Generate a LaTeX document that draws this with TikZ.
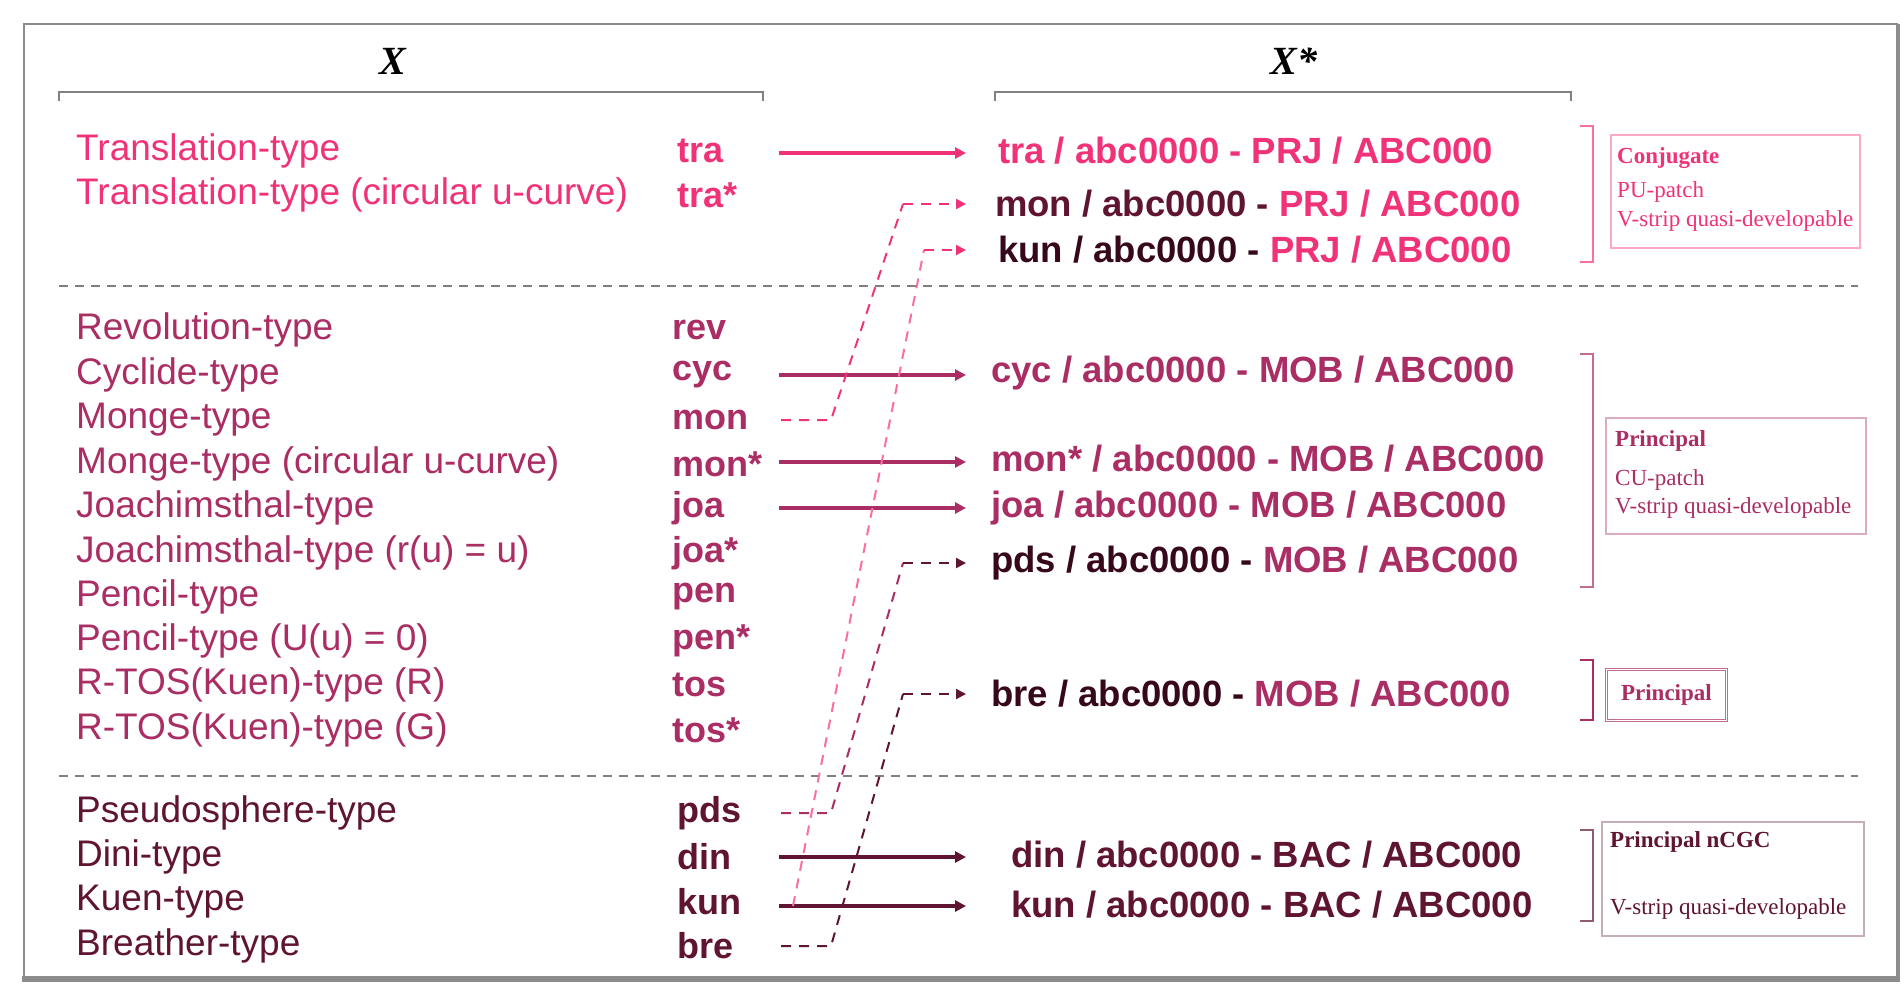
\documentclass[tikz,border=0pt]{standalone}
\usepackage{fontspec}
\setmainfont{Liberation Sans}
\newfontfamily\tms{Liberation Serif}
\usetikzlibrary{arrows.meta}
\definecolor{pinkA}{RGB}{240,50,120}
\definecolor{magB}{RGB}{170,45,100}
\definecolor{darkC}{RGB}{95,20,50}
\definecolor{darkD}{RGB}{55,8,28}
\definecolor{pinkL}{RGB}{250,110,160}
\definecolor{frameG}{RGB}{140,140,140}
\begin{document}
\begin{tikzpicture}[x=1pt,y=-1pt,
  lname/.style={anchor=west,inner sep=0pt,font=\fontsize{37}{37}\selectfont},
  code/.style={anchor=west,inner sep=0pt,font=\bfseries\fontsize{36}{36}\selectfont},
  rent/.style={anchor=west,inner sep=0pt,font=\bfseries\fontsize{36.5}{36.5}\selectfont},
  sarr/.style={line width=3.4pt,-{Triangle[length=11pt,width=11pt]}},
  darr/.style={line width=2pt,dash pattern=on 10pt off 8pt},
  dtip/.style={line width=2pt,dash pattern=on 10pt off 8pt,-{Triangle[length=10pt,width=10pt]}},
  brk/.style={line width=1.4pt},
  bx/.style={draw,line width=1.5pt},
  btxt/.style={anchor=west,inner sep=0pt,font=\tms\fontsize{23}{23}\selectfont}]
\useasboundingbox (0,0) rectangle (1904,994);
\fill[white] (0,0) rectangle (1904,994);
% frame
\draw[frameG,line width=1.5pt] (24,979) -- (24,24) -- (1898,24);
\draw[frameG,line width=4pt] (1898,24) -- (1898,979);
\draw[frameG,line width=6pt] (22,979) -- (1900,979);
% headers
\node[font=\tms\bfseries\itshape\fontsize{40}{40}\selectfont] (hx) at (393,61) {X};
\node[font=\tms\bfseries\itshape\fontsize{40}{40}\selectfont] (hxs) at (1294,61) {X*};
\draw[gray,line width=1.3pt] (59,101) -- (59,92) -- (763,92) -- (763,101);
\draw[gray,line width=1.3pt] (995,101) -- (995,92) -- (1571,92) -- (1571,101);
% separators
\draw[gray,line width=1.5pt,dash pattern=on 9pt off 7pt] (59,286) -- (1858,286);
\draw[gray,line width=1.5pt,dash pattern=on 9pt off 7pt] (59,776) -- (1858,776);
% left names
\begin{scope}[pinkA]
\node[lname] (n1) at (76,151) {Translation-type};
\node[lname] (n2) at (76,195) {Translation-type (circular u-curve)};
\node[code] (c1) at (677,151) {tra};
\node[code] (c2) at (677,195) {tra*};
\end{scope}
\begin{scope}[magB]
\node[lname] at (76,330) {Revolution-type};
\node[lname] at (76,375) {Cyclide-type};
\node[lname] at (76,420) {Monge-type};
\node[lname] at (76,464) {Monge-type (circular u-curve)};
\node[lname] at (76,508) {Joachimsthal-type};
\node[lname] at (76,553) {Joachimsthal-type (r(u) = u)};
\node[lname] at (76,597) {Pencil-type};
\node[lname] at (76,641) {Pencil-type (U(u) = 0)};
\node[lname] at (76,685) {R-TOS(Kuen)-type (R)};
\node[lname] at (76,730) {R-TOS(Kuen)-type (G)};
\node[code] (c3) at (672,330) {rev};
\node[code] (c4) at (672,375) {cyc};
\node[code] (c5) at (672,420) {mon};
\node[code] (c6) at (672,464) {mon*};
\node[code] (c7) at (672,508) {joa};
\node[code] (c8) at (672,553) {joa*};
\node[code] (c9) at (672,597) {pen};
\node[code] (c10) at (672,641) {pen*};
\node[code] (c11) at (672,685) {tos};
\node[code] (c12) at (672,730) {tos*};
\end{scope}
\begin{scope}[darkC]
\node[lname] at (76,813) {Pseudosphere-type};
\node[lname] at (76,857) {Dini-type};
\node[lname] at (76,902) {Kuen-type};
\node[lname] at (76,946) {Breather-type};
\node[code] (c13) at (677,813) {pds};
\node[code] (c14) at (677,857) {din};
\node[code] (c15) at (677,902) {kun};
\node[code] (c16) at (677,946) {bre};
\end{scope}
% right entries
\node[rent,pinkA] (r1) at (998,151) {tra / abc0000 - PRJ / ABC000};
\node[rent] (r2) at (995,204) {\textcolor{darkC}{mon / abc0000 -} \textcolor{pinkA}{PRJ / ABC000}};
\node[rent] (r3) at (998,250) {\textcolor{darkD}{kun / abc0000 -} \textcolor{pinkA}{PRJ / ABC000}};
\node[rent,magB] (r4) at (991,373) {cyc / abc0000 - MOB / ABC000};
\node[rent,magB] (r5) at (991,459) {mon* / abc0000 - MOB / ABC000};
\node[rent,magB] (r6) at (991,508) {joa / abc0000 - MOB / ABC000};
\node[rent] (r7) at (991,563) {\textcolor{darkD}{pds / abc0000 -} \textcolor{magB}{MOB / ABC000}};
\node[rent] (r8) at (991,694) {\textcolor{darkD}{bre / abc0000 -}\ \textcolor{magB}{MOB / ABC000}};
\node[rent,darkC] (r9) at (1011,855) {din / abc0000 - BAC / ABC000};
\node[rent,darkC] (r10) at (1011,905) {kun / abc0000 - BAC / ABC000};
% coordinates for connectors
\coordinate (a1) at (779,153); \coordinate (e1) at (966,153);
\coordinate (a4) at (779,375); \coordinate (e4) at (966,375);
\coordinate (a6) at (779,462); \coordinate (e6) at (966,462);
\coordinate (a7) at (779,508); \coordinate (e7) at (966,508);
\coordinate (a14) at (779,857); \coordinate (e14) at (966,857);
\coordinate (a15) at (779,906); \coordinate (e15) at (966,906);
% solid arrows
\draw[sarr,pinkA] (a1) -- (e1);
\draw[sarr,magB] (a4) -- (e4);
\draw[sarr,magB] (a6) -- (e6);
\draw[sarr,magB] (a7) -- (e7);
\draw[sarr,darkC] (a14) -- (e14);
\draw[sarr,darkC] (a15) -- (e15);
% dashed links
\coordinate (m0) at (781,420); \coordinate (m1) at (831,420); \coordinate (m2) at (903,204); \coordinate (m3) at (966,204);
\draw[darr,pinkA] (m0) -- (m1) -- (m2);
\draw[dtip,pinkA] (m2) -- (m3);
\coordinate (k0) at (793,906); \coordinate (k1) at (924,250); \coordinate (k2) at (966,250);
\draw[darr,pinkL] (k0) -- (k1);
\draw[dtip,pinkA] (k1) -- (k2);
\coordinate (p0) at (781,813); \coordinate (p1) at (831,813); \coordinate (p2) at (903,563); \coordinate (p3) at (966,563);
\draw[darr,magB] (p0) -- (p1) -- (p2);
\draw[dtip,darkC] (p2) -- (p3);
\coordinate (b0) at (781,946); \coordinate (b1) at (831,946); \coordinate (b2) at (903,694); \coordinate (b3) at (966,694);
\draw[darr,darkC] (b0) -- (b1) -- (b2);
\draw[dtip,darkC] (b2) -- (b3);
% brackets
\draw[brk,pinkL] (1580,126) -- (1593,126) -- (1593,262) -- (1580,262);
\draw[brk,magB!70] (1580,354) -- (1593,354) -- (1593,587) -- (1580,587);
\draw[brk,magB] (1580,660) -- (1593,660) -- (1593,720) -- (1580,720);
\draw[brk,darkC!70] (1580,830) -- (1593,830) -- (1593,921) -- (1580,921);
% boxes
\node[bx,pinkL!60,minimum width=249pt,minimum height=113pt,anchor=north west] (bxa) at (1610,134) {};
\node[btxt,pinkA] at (1617,158) {\bfseries Conjugate};
\node[btxt,pinkA] at (1617,192) {PU-patch};
\node[btxt,pinkA] at (1617,221) {V-strip quasi-developable};
\node[bx,magB!40,minimum width=260pt,minimum height=116pt,anchor=north west] (bxb) at (1605,417) {};
\node[btxt,magB] at (1615,441) {\bfseries Principal};
\node[btxt,magB] at (1615,480) {CU-patch};
\node[btxt,magB] at (1615,508) {V-strip quasi-developable};
\node[draw=magB!70,double=white,double distance=1.2pt,line width=0.8pt,minimum width=120pt,minimum height=51pt,anchor=north west,inner sep=0pt,font=\tms\bfseries\fontsize{23}{23}\selectfont,text=magB] (bxc) at (1606,669) {Principal};
\node[bx,darkC!35,minimum width=262pt,minimum height=114pt,anchor=north west] (bxd) at (1601,821) {};
\node[btxt,darkC] at (1610,842) {\bfseries Principal nCGC};
\node[btxt,darkC] at (1610,909) {V-strip quasi-developable};
\end{tikzpicture}
\end{document}
